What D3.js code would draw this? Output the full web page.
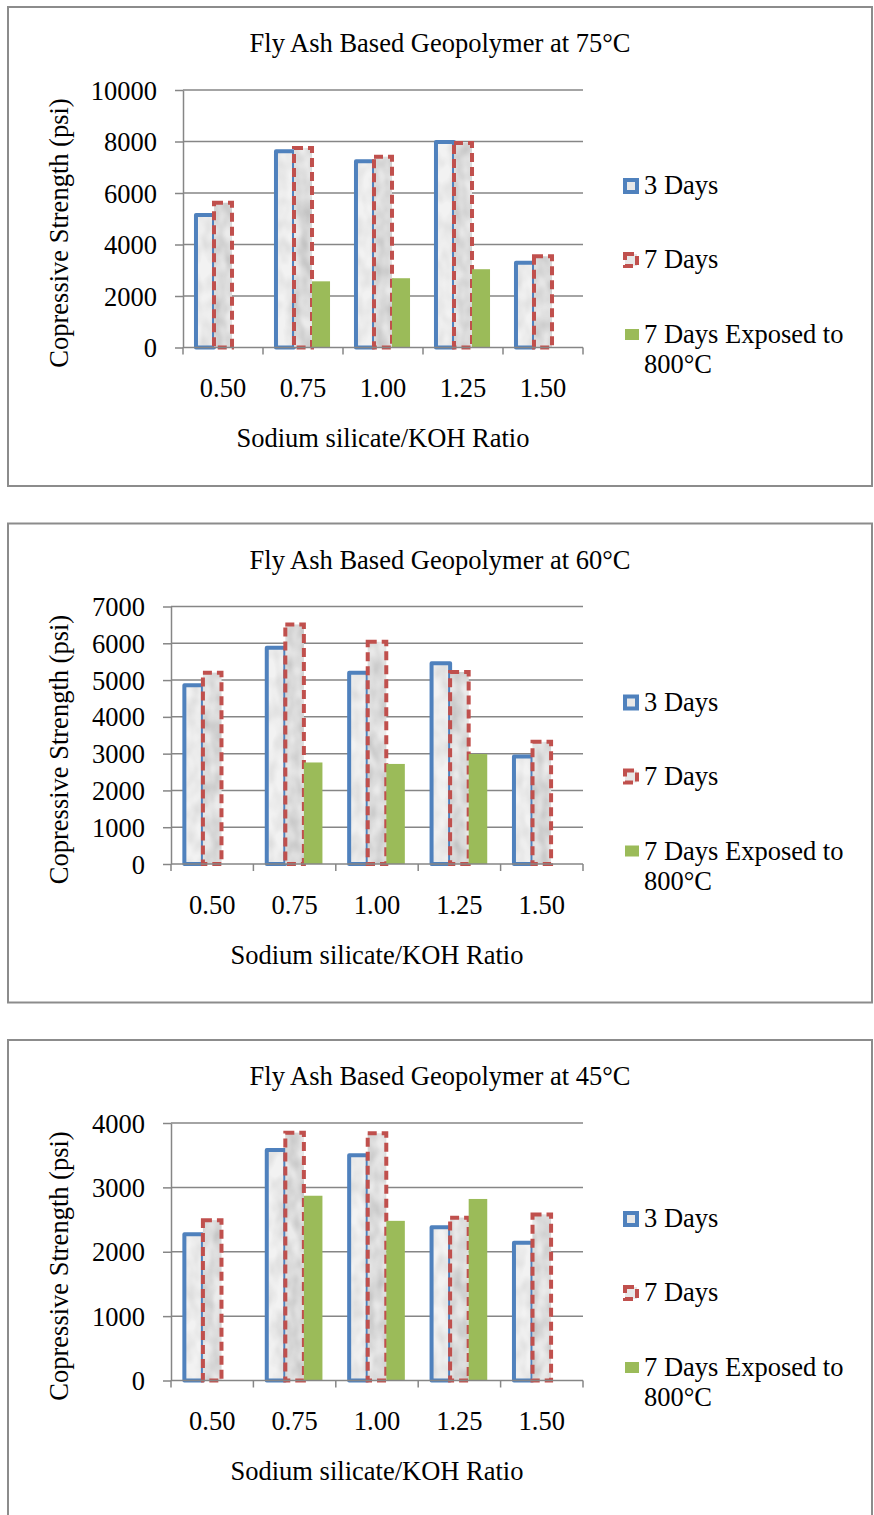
<!DOCTYPE html>
<html>
<head>
<meta charset="utf-8">
<script src="https://cdn.jsdelivr.net/npm/d3@7"></script>
<style>
  body { margin: 0; background: #fff; }
  text { font-family: "Liberation Serif", "Times New Roman", serif; fill: #000; }
</style>
</head>
<body>
<div id="vis"></div>
<script>
// data
const ratios = ["0.50", "0.75", "1.00", "1.25", "1.50"];
const seriesNames = ["3 Days", "7 Days", "7 Days Exposed to 800°C"];

const days3_75 = [5150, 7620, 7230, 7980, 3290];
const days7_75 = [5620, 7750, 7410, 7940, 3540];
const exposed_75 = [0, 2570, 2690, 3040, 0];

const days3_60 = [4860, 5880, 5200, 5460, 2920];
const days7_60 = [5200, 6510, 6040, 5220, 3320];
const exposed_60 = [0, 2760, 2720, 2990, 0];

const days3_45 = [2270, 3580, 3500, 2380, 2140];
const days7_45 = [2490, 3850, 3840, 2530, 2580];
const exposed_45 = [0, 2870, 2480, 2820, 0];

const ticks_75 = [0, 2000, 4000, 6000, 8000, 10000];
const ticks_60 = [0, 1000, 2000, 3000, 4000, 5000, 6000, 7000];
const ticks_45 = [0, 1000, 2000, 3000, 4000];

const charts = [
    {title: "Fly Ash Based Geopolymer at 75°C", ticks: ticks_75, values: [days3_75, days7_75, exposed_75], left: 183},
    {title: "Fly Ash Based Geopolymer at 60°C", ticks: ticks_60, values: [days3_60, days7_60, exposed_60], left: 171},
    {title: "Fly Ash Based Geopolymer at 45°C", ticks: ticks_45, values: [days3_45, days7_45, exposed_45], left: 171}
];

const width = 874;
const height = 1515;
const chartStep = 516.5;
const fontSize = 26.5;
const gridColor = '#868686';
const blue = '#4f81bd';
const red = '#c0504d';
const green = '#9bbb59';

const svg = d3.create('svg')
    .attr('width', width)
    .attr('height', height);

// marble-ish texture used inside the outlined bars
const defs = svg.append('defs');
const makeTexture = function (id, seed, alpha) {
    const f = defs.append('filter').attr('id', id)
        .attr('x', 0).attr('y', 0).attr('width', 1).attr('height', 1);
    f.append('feTurbulence')
        .attr('type', 'fractalNoise')
        .attr('baseFrequency', '0.08 0.05')
        .attr('numOctaves', 2)
        .attr('seed', seed)
        .attr('result', 'noise');
    f.append('feColorMatrix')
        .attr('in', 'noise')
        .attr('type', 'matrix')
        .attr('values', `0 0 0 0 0.55  0 0 0 0 0.55  0 0 0 0 0.55  0 0 0 ${alpha} -0.35`)
        .attr('result', 'spots');
    f.append('feComposite')
        .attr('in', 'spots').attr('in2', 'SourceGraphic')
        .attr('operator', 'in').attr('result', 'clipped');
    const m = f.append('feMerge');
    m.append('feMergeNode').attr('in', 'SourceGraphic');
    m.append('feMergeNode').attr('in', 'clipped');
};
makeTexture('tex-blue', 4, 1.0);
makeTexture('tex-red', 9, 1.6);

charts.forEach((c, ci) => {
    const off = ci * chartStep;
    const top = off + 90;
    const bottom = off + 347.5;
    const right = 583;
    const g = svg.append('g');

    // frame
    g.append('rect')
        .attr('x', 8).attr('y', off + 7)
        .attr('width', 864).attr('height', 479)
        .attr('fill', 'none')
        .attr('stroke', '#8c8c8c')
        .attr('stroke-width', 2);

    // title
    g.append('text')
        .attr('x', 440).attr('y', off + 52)
        .attr('text-anchor', 'middle')
        .attr('font-size', fontSize)
        .text(c.title);

    // scales
    const xScale = d3.scaleBand()
        .domain(ratios)
        .range([c.left, right])
        .paddingInner(0).paddingOuter(0);
    const xSub = d3.scaleBand()
        .domain(seriesNames)
        .range([0, xScale.bandwidth()])
        .paddingInner(0).paddingOuter(0.72);
    const yScale = d3.scaleLinear()
        .domain([0, d3.max(c.ticks)])
        .range([bottom, top]);

    // gridlines
    g.append('g').selectAll('line')
        .data(c.ticks.filter(t => t > 0))
        .join('line')
        .attr('x1', c.left).attr('x2', right)
        .attr('y1', d => yScale(d)).attr('y2', d => yScale(d))
        .attr('stroke', gridColor)
        .attr('stroke-width', 1.5);

    // y axis
    const yAxis = g.append('g')
        .attr('transform', `translate(${c.left},0)`)
        .call(d3.axisLeft(yScale).tickValues(c.ticks).tickFormat(d3.format('d'))
            .tickSize(8).tickPadding(18).tickSizeOuter(0));
    yAxis.select('.domain').attr('stroke', gridColor).attr('stroke-width', 1.5);
    yAxis.selectAll('.tick line').attr('stroke', gridColor).attr('stroke-width', 1.5);
    yAxis.selectAll('.tick text')
        .attr('font-size', fontSize)
        .attr('font-family', '"Liberation Serif", "Times New Roman", serif')
        .attr('fill', '#000')
        .attr('dy', '0.34em');

    // bars
    const rows = [];
    c.values.forEach((vals, si) => {
        vals.forEach((v, i) => {
            if (v > 0) rows.push({series: seriesNames[si], si: si, ratio: ratios[i], value: v});
        });
    });
    const barX = d => xScale(d.ratio) + xSub(d.series);
    const bw = xSub.bandwidth();

    rows.forEach(d => {
        const x = barX(d);
        const y = yScale(d.value);
        const h = bottom - y;
        if (d.si === 2) {
            g.append('rect')
                .attr('x', x).attr('y', y)
                .attr('width', bw).attr('height', h)
                .attr('fill', green);
            return;
        }
        g.append('rect')
            .attr('x', x).attr('y', y)
            .attr('width', bw).attr('height', h)
            .attr('fill', d.si === 0 ? '#f2f2f2' : '#ebebeb')
            .attr('filter', d.si === 0 ? 'url(#tex-blue)' : 'url(#tex-red)');
        g.append('rect')
            .attr('x', x).attr('y', y)
            .attr('width', bw).attr('height', h)
            .attr('fill', 'none')
            .attr('stroke', d.si === 0 ? blue : red)
            .attr('stroke-width', 4)
            .attr('stroke-dasharray', d.si === 0 ? null : '9,5')
            .attr('stroke-linejoin', d.si === 0 ? 'round' : 'miter');
    });

    // x axis
    const xAxisLine = g.append('g');
    xAxisLine.append('line')
        .attr('x1', c.left).attr('x2', right)
        .attr('y1', bottom).attr('y2', bottom)
        .attr('stroke', gridColor).attr('stroke-width', 1.5);
    const bounds = ratios.map(r => xScale(r)).concat([right]);
    xAxisLine.selectAll('.xt')
        .data(bounds)
        .join('line')
        .attr('class', 'xt')
        .attr('x1', d => d).attr('x2', d => d)
        .attr('y1', bottom).attr('y2', bottom + 7)
        .attr('stroke', gridColor).attr('stroke-width', 1.5);
    xAxisLine.selectAll('.xl')
        .data(ratios)
        .join('text')
        .attr('class', 'xl')
        .attr('x', d => xScale(d) + xScale.bandwidth() / 2)
        .attr('y', off + 397)
        .attr('text-anchor', 'middle')
        .attr('font-size', fontSize)
        .text(d => d);

    // axis titles
    g.append('text')
        .attr('x', (c.left + right) / 2).attr('y', off + 447)
        .attr('text-anchor', 'middle')
        .attr('font-size', fontSize)
        .text('Sodium silicate/KOH Ratio');
    g.append('text')
        .attr('transform', `translate(68,${off + 233}) rotate(-90)`)
        .attr('text-anchor', 'middle')
        .attr('font-size', fontSize)
        .text('Copressive Strength (psi)');

    // legend
    const lg = g.append('g');
    lg.append('rect')
        .attr('x', 625).attr('y', off + 180).attr('width', 12).attr('height', 12)
        .attr('fill', '#e8e8e8').attr('stroke', blue).attr('stroke-width', 4);
    lg.append('text').attr('x', 644).attr('y', off + 194)
        .attr('font-size', fontSize).text(seriesNames[0]);
    lg.append('rect')
        .attr('x', 625).attr('y', off + 254).attr('width', 12).attr('height', 12)
        .attr('fill', '#e8e8e8').attr('stroke', red).attr('stroke-width', 4)
        .attr('stroke-dasharray', '9,5');
    lg.append('text').attr('x', 644).attr('y', off + 268)
        .attr('font-size', fontSize).text(seriesNames[1]);
    lg.append('rect')
        .attr('x', 625).attr('y', off + 329).attr('width', 14).attr('height', 11)
        .attr('fill', green);
    lg.append('text').attr('x', 644).attr('y', off + 343)
        .attr('font-size', fontSize).text('7 Days Exposed to');
    lg.append('text').attr('x', 644).attr('y', off + 373)
        .attr('font-size', fontSize).text('800°C');
});

document.getElementById("vis").appendChild(svg.node());
</script>
</body>
</html>
